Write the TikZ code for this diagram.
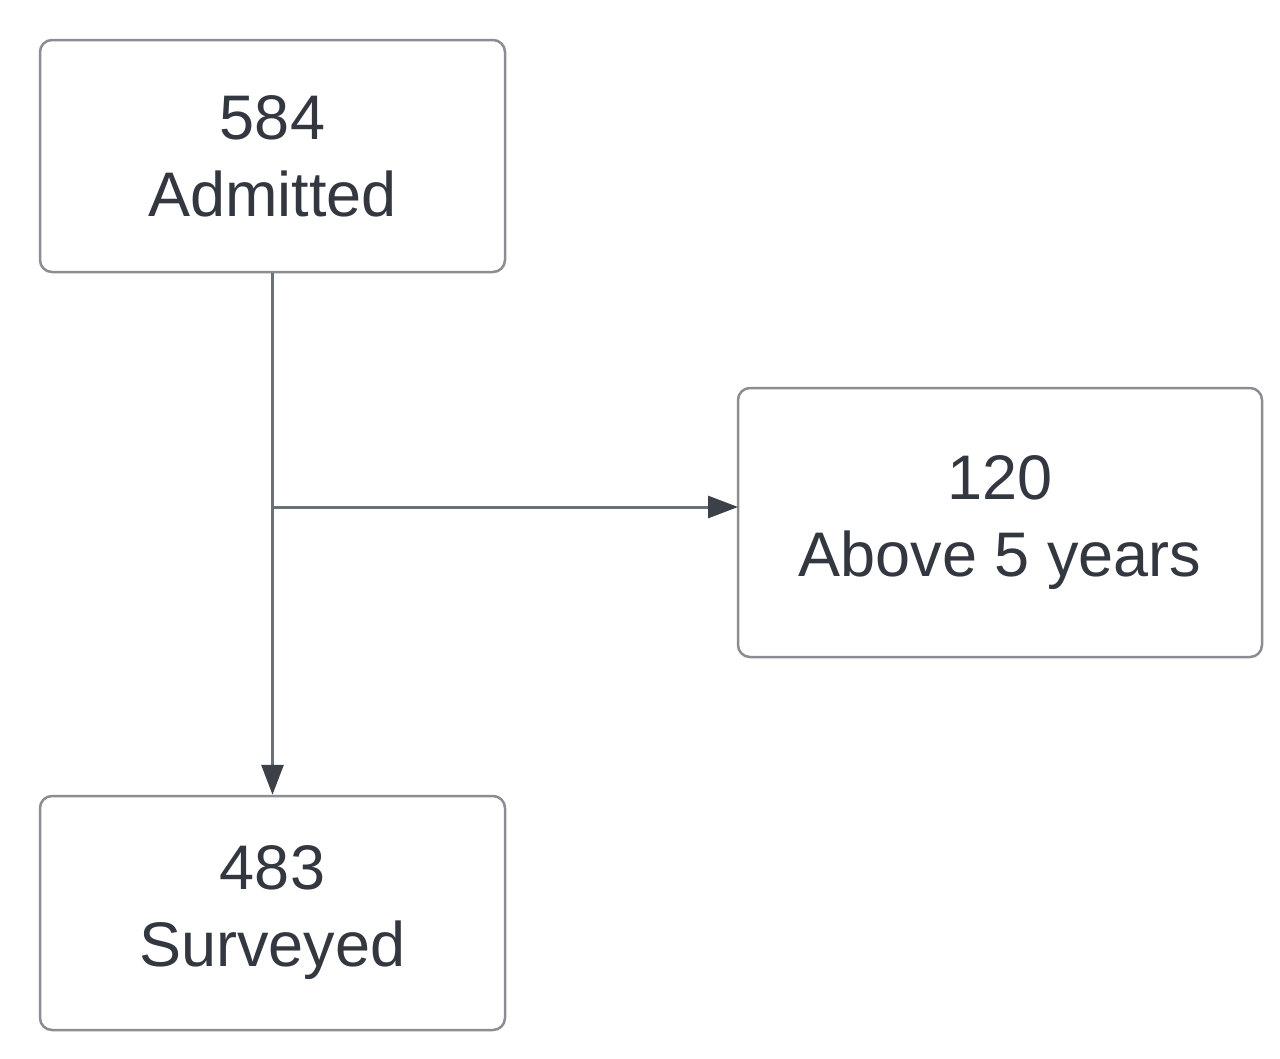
\documentclass[tikz,border=0pt]{standalone}
\usepackage{fontspec}
\setmainfont{Liberation Sans}
\usetikzlibrary{arrows.meta}
\definecolor{txt}{HTML}{333740}
\definecolor{edge}{HTML}{8A8D92}
\definecolor{ln}{HTML}{6B6F76}
\definecolor{tip}{HTML}{3C4048}
\begin{document}
\begin{tikzpicture}[x=1pt,y=-1pt,
  box/.style={draw=edge,line width=2.5pt,rounded corners=12pt,inner sep=0pt,align=center,
    font=\fontsize{63}{77}\selectfont,text=txt},
  conn/.style={draw=ln,line width=3pt,-{Triangle[length=30pt,width=22pt,color=tip]}}]
\useasboundingbox (0,0) rectangle (1280,1058);
\node[box,minimum width=465pt,minimum height=232pt] (a) at (272.5,156) {584\\Admitted};
\node[box,minimum width=524pt,minimum height=269pt] (r) at (1000,522.5) {120\\Above 5 years};
\node[box,minimum width=465pt,minimum height=234pt] (s) at (272.5,913) {483\\Surveyed};
\coordinate (j) at (273,507);
\coordinate (re) at (738,507);
\draw[conn] (a.south) -- (s.north);
\draw[conn] (j) -- (re);
\end{tikzpicture}
\end{document}
